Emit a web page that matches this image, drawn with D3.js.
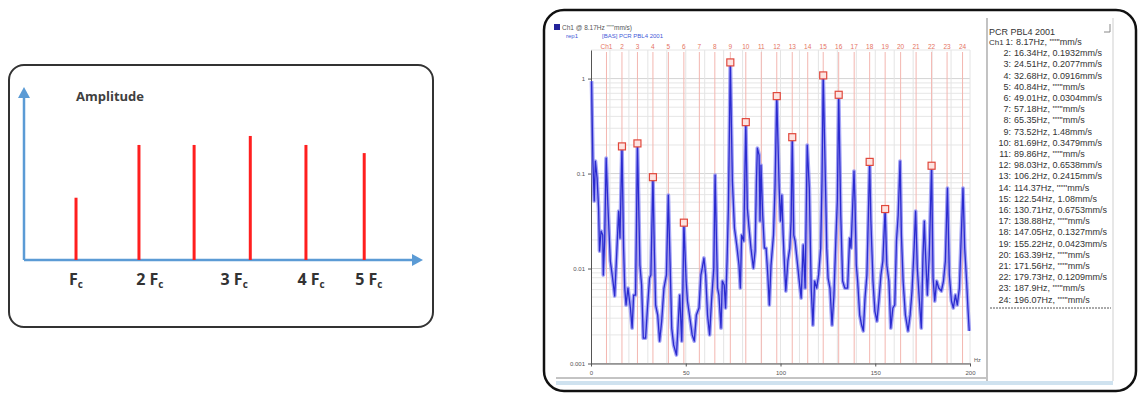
<!DOCTYPE html>
<html>
<head>
<meta charset="utf-8">
<script src="https://cdn.jsdelivr.net/npm/d3@7"></script>
<style>
  body { margin: 0; background: #fff; }
  svg { display: block; }
</style>
</head>
<body>
<div id="chart"></div>
<script>
// ---- left schematic: comb of harmonics (arbitrary units)
var combPos = [1.0, 2.21, 3.27, 4.35, 5.42, 6.54];
var combAmp = [0.36, 0.665, 0.665, 0.717, 0.665, 0.618];
var combLabels = ["", "2 ", "3 ", "4 ", "5 "];
var combLabelPos = [1.0, 2.42, 4.04, 5.52, 6.63];

// ---- right: measured velocity spectrum [Hz, mm/s]
var spectrum = [
  [0.3, 0.94], [1.0, 0.1355], [1.7, 0.0514], [2.3, 0.1355], [3.2, 0.0897], [4.0, 0.0433],
  [4.5, 0.0153], [5.3, 0.0248], [6.2, 0.0225], [6.5, 0.00855], [7.2, 0.0195], [8.0, 0.1456],
  [8.9, 0.0466], [10.2, 0.012], [11.4, 0.00794], [12.5, 0.00514], [13.7, 0.0164], [14.6, 0.0403],
  [15.3, 0.0209], [16.34, 0.1932], [17.2, 0.0164], [17.8, 0.00623], [18.5, 0.00413], [19.5, 0.00623],
  [20.8, 0.00384], [21.7, 0.00236], [22.5, 0.00526], [23.5, 0.00526], [24.0, 0.0287], [24.51, 0.2077],
  [25.8, 0.0109], [26.7, 0.0067], [27.6, 0.00185], [28.8, 0.00185], [29.8, 0.00384], [30.9, 0.00794],
  [31.6, 0.00855], [32.68, 0.0916], [33.4, 0.0164], [34.1, 0.00413], [35.2, 0.00324], [36.2, 0.00172],
  [37.3, 0.0028], [38.5, 0.00623], [39.8, 0.00855], [40.8, 0.0594], [41.7, 0.012], [42.6, 0.00236],
  [43.6, 0.00157], [45.1, 0.00123], [45.8, 0.0022], [46.8, 0.00526], [47.9, 0.00172], [48.5, 0.00623],
  [49.01, 0.0304], [50.2, 0.00738], [50.9, 0.00455], [52.4, 0.0028], [53.4, 0.002], [54.5, 0.00172],
  [55.6, 0.00324], [57.0, 0.00384], [58.0, 0.00855], [58.7, 0.0101], [59.6, 0.0129], [60.5, 0.00855],
  [61.5, 0.00324], [62.6, 0.002], [63.6, 0.00455], [64.8, 0.0101], [65.5, 0.0964], [66.3, 0.0164],
  [66.8, 0.00623], [67.5, 0.00526], [68.6, 0.00236], [69.3, 0.00738], [70.3, 0.0067], [71.0, 0.00384],
  [71.8, 0.012], [72.5, 0.0433], [73.52, 1.48], [74.6, 0.0834], [75.7, 0.0267], [76.9, 0.0177],
  [78.1, 0.0109], [78.8, 0.00623], [79.5, 0.0225], [80.6, 0.0195], [81.69, 0.3479], [82.5, 0.0433],
  [83.4, 0.0267], [84.4, 0.0164], [85.7, 0.0101], [86.6, 0.0153], [87.3, 0.0834], [87.8, 0.1855],
  [88.7, 0.1566], [89.2, 0.0316], [89.7, 0.1228], [90.6, 0.0366], [91.5, 0.0164], [92.4, 0.0164],
  [93.3, 0.00855], [94.1, 0.00413], [95.0, 0.0109], [96.3, 0.0225], [97.1, 0.0703], [98.03, 0.6538],
  [99.3, 0.0703], [100.0, 0.0316], [100.7, 0.0594], [101.4, 0.0225], [102.1, 0.0109], [102.8, 0.0058],
  [103.9, 0.012], [104.9, 0.0164], [105.6, 0.0316], [106.2, 0.2415], [107.0, 0.0225], [107.7, 0.0195],
  [108.8, 0.012], [109.9, 0.00738], [110.9, 0.00489], [112.0, 0.0177], [113.0, 0.00623], [114.1, 0.1995],
  [115.2, 0.0703], [116.2, 0.00623], [117.1, 0.00254], [118.0, 0.00738], [119.1, 0.00623], [120.1, 0.00855],
  [121.2, 0.0164], [121.9, 0.0834], [122.54, 1.08], [123.7, 0.0834], [124.4, 0.0164], [125.1, 0.00794],
  [126.1, 0.00623], [127.2, 0.00254], [128.2, 0.00526], [129.3, 0.0225], [130.0, 0.0514], [130.71, 0.6753],
  [131.8, 0.0366], [132.8, 0.00738], [133.9, 0.00623], [135.4, 0.00623], [136.5, 0.0209], [137.2, 0.0164],
  [137.9, 0.0366], [138.8, 0.1062], [139.3, 0.0514], [140.0, 0.0109], [140.7, 0.00738], [141.8, 0.00324],
  [142.8, 0.00254], [143.7, 0.0022], [144.6, 0.00489], [145.6, 0.00855], [147.05, 0.1327], [147.7, 0.0316],
  [148.8, 0.00738], [149.8, 0.00357], [150.9, 0.0028], [151.9, 0.00455], [153.0, 0.00855], [154.0, 0.012],
  [155.22, 0.0423], [156.1, 0.0109], [157.2, 0.00738], [158.2, 0.00236], [159.3, 0.00384], [160.3, 0.00413],
  [161.2, 0.0195], [162.1, 0.0366], [163.1, 0.1355], [163.8, 0.0225], [164.7, 0.00738], [165.9, 0.00324],
  [167.3, 0.0022], [168.4, 0.00324], [169.4, 0.0058], [170.5, 0.0164], [171.3, 0.0403], [172.2, 0.0101],
  [173.3, 0.00455], [174.3, 0.00236], [175.2, 0.0139], [175.9, 0.0316], [176.4, 0.0164], [177.5, 0.00526],
  [178.5, 0.0139], [179.73, 0.1209], [180.5, 0.00794], [181.4, 0.00455], [182.4, 0.00738], [183.5, 0.00623],
  [184.9, 0.0058], [186.0, 0.00738], [187.0, 0.012], [188.1, 0.0703], [189.1, 0.00855], [190.2, 0.00455],
  [191.2, 0.00384], [192.3, 0.00526], [193.3, 0.00413], [194.4, 0.00623], [195.4, 0.0225], [196.3, 0.0703],
  [197.2, 0.0164], [198.2, 0.00738], [198.9, 0.00384], [199.6, 0.0022]
];

var harmonicFreq = [8.17, 16.34, 24.51, 32.68, 40.84, 49.01, 57.18, 65.35, 73.52, 81.69, 89.86, 98.03,
  106.2, 114.37, 122.54, 130.71, 138.88, 147.05, 155.22, 163.39, 171.56, 179.73, 187.9, 196.07];
var harmonicAmp = [null, 0.1932, 0.2077, 0.0916, null, 0.0304, null, null, 1.48, 0.3479, null, 0.6538,
  0.2415, null, 1.08, 0.6753, null, 0.1327, 0.0423, null, null, 0.1209, null, null];
var harmonicFreqText = ["8.17", "16.34", "24.51", "32.68", "40.84", "49.01", "57.18", "65.35", "73.52",
  "81.69", "89.86", "98.03", "106.2", "114.37", "122.54", "130.71", "138.88", "147.05", "155.22",
  "163.39", "171.56", "179.73", "187.9", "196.07"];
var xTicks = [0, 50, 100, 150, 200];
var yTicks = [0.001, 0.01, 0.1, 1];

var svg = d3.select("#chart")
  .append("svg")
  .attr("width", 1140)
  .attr("height", 394);

svg.append("rect").attr("width", 1140).attr("height", 394).attr("fill", "#fff");

// ================= left panel =================
svg.append("rect")
  .attr("x", 9).attr("y", 65)
  .attr("width", 424).attr("height", 262)
  .attr("rx", 15)
  .attr("fill", "#fff")
  .attr("stroke", "#333")
  .attr("stroke-width", 2);

var combX = d3.scaleLinear().domain([0, 7.67]).range([24, 423]);
var combY = d3.scaleLinear().domain([0, 1]).range([260, 87]);
var axisBlue = "#5b9bd5";

var left = svg.append("g");

left.append("line")
  .attr("x1", combX(0)).attr("y1", combY(0))
  .attr("x2", combX(0)).attr("y2", combY(1) + 8)
  .attr("stroke", axisBlue).attr("stroke-width", 2.5);
left.append("line")
  .attr("x1", combX(0)).attr("y1", combY(0))
  .attr("x2", combX(7.67) - 8).attr("y2", combY(0))
  .attr("stroke", axisBlue).attr("stroke-width", 2.5);

// arrow heads
var x0 = combX(0), yTop = combY(1), y0 = combY(0), xEnd = combX(7.67);
left.append("path")
  .attr("d", `M${x0},${yTop} L${x0 - 6},${yTop + 11} L${x0 + 6},${yTop + 11} Z`)
  .attr("fill", axisBlue);
left.append("path")
  .attr("d", `M${xEnd},${y0} L${xEnd - 11},${y0 - 6} L${xEnd - 11},${y0 + 6} Z`)
  .attr("fill", axisBlue);

left.selectAll(".comb")
  .data(combPos)
  .enter()
  .append("line")
  .attr("class", "comb")
  .attr("x1", d => combX(d))
  .attr("x2", d => combX(d))
  .attr("y1", combY(0))
  .attr("y2", (d, i) => combY(combAmp[i]))
  .attr("stroke", "#ff1f1f")
  .attr("stroke-width", 3);

left.append("text")
  .attr("x", 76).attr("y", 101)
  .attr("font-family", "Open Sans, sans-serif")
  .attr("font-weight", "bold")
  .attr("font-size", "13px")
  .attr("fill", "#404040")
  .text("Amplitude");

var combText = left.selectAll(".combLabel")
  .data(combLabels)
  .enter()
  .append("text")
  .attr("class", "combLabel")
  .attr("x", (d, i) => combX(combLabelPos[i]))
  .attr("y", 285)
  .attr("text-anchor", "middle")
  .attr("font-family", "Open Sans, sans-serif")
  .attr("font-weight", "bold")
  .attr("font-size", "16px")
  .attr("fill", "#333");
combText.append("tspan").text(d => d + "F");
combText.append("tspan").attr("font-size", "10px").attr("dy", 3).text("c");

// ================= right panel =================
svg.append("rect")
  .attr("x", 544).attr("y", 10)
  .attr("width", 592).attr("height", 381)
  .attr("rx", 20)
  .attr("fill", "#fff")
  .attr("stroke", "#111")
  .attr("stroke-width", 2.5);

var specX = d3.scaleLinear().domain([0, 200]).range([591, 970]);
var specY = d3.scaleLog().domain([0.001, 2]).range([363.5, 50]);

var plot = svg.append("g");

// log grid
var gridY = [];
yTicks.forEach(function(dec) {
  for (var m = 1; m <= 9; m++) {
    if (dec * m <= 2) gridY.push(dec * m);
  }
});
plot.selectAll(".gy")
  .data(gridY)
  .enter()
  .append("line")
  .attr("x1", specX(0)).attr("x2", specX(200))
  .attr("y1", d => specY(d)).attr("y2", d => specY(d))
  .attr("stroke", (d, i) => (i % 9 === 0 ? "#d4d4d4" : "#e6e6e6"))
  .attr("stroke-width", 1);

plot.selectAll(".gx")
  .data(d3.range(10, 201, 10))
  .enter()
  .append("line")
  .attr("x1", d => specX(d)).attr("x2", d => specX(d))
  .attr("y1", specY(2)).attr("y2", specY(0.001))
  .attr("stroke", "#e4e4e4")
  .attr("stroke-width", 1);

// harmonic cursors
plot.selectAll(".hl")
  .data(harmonicFreq)
  .enter()
  .append("line")
  .attr("x1", d => specX(d)).attr("x2", d => specX(d))
  .attr("y1", 52).attr("y2", specY(0.001))
  .attr("stroke", "#f3b6b0")
  .attr("stroke-width", 1);

plot.selectAll(".hlab")
  .data(harmonicFreq)
  .enter()
  .append("text")
  .attr("x", d => specX(d))
  .attr("y", 49)
  .attr("text-anchor", "middle")
  .attr("font-family", "Liberation Sans, Arial, sans-serif")
  .attr("font-size", "6.5px")
  .attr("fill", "#e5735f")
  .text((d, i) => (i === 0 ? "Ch1" : String(i + 1)));

// axes
var bottomAxis = d3.axisBottom(specX).tickValues(xTicks).tickSize(3).tickSizeOuter(0);
var leftAxis = d3.axisLeft(specY).tickValues(yTicks).tickSize(3).tickSizeOuter(0)
  .tickFormat(d3.format("~g"));

var gx = plot.append("g")
  .attr("transform", `translate(0, ${specY(0.001)})`)
  .call(bottomAxis);
var gy = plot.append("g")
  .attr("transform", `translate(${specX(0)}, 0)`)
  .call(leftAxis);
[gx, gy].forEach(function(g) {
  g.select(".domain").attr("stroke", "#555");
  g.selectAll(".tick line").attr("stroke", "#555");
  g.selectAll("text")
    .attr("font-family", "Liberation Sans, Arial, sans-serif")
    .attr("font-size", "6px")
    .attr("fill", "#555");
});
gx.selectAll("text").attr("dy", "0.9em");

plot.append("text")
  .attr("x", specX(200) + 4).attr("y", specY(0.001) - 2)
  .attr("font-family", "Liberation Sans, Arial, sans-serif")
  .attr("font-size", "5.5px")
  .attr("fill", "#555")
  .text("Hz");

// trace
var line = d3.line()
  .x(d => specX(d[0]))
  .y(d => specY(d[1]));

plot.append("path")
  .datum(spectrum)
  .attr("d", line)
  .attr("fill", "none")
  .attr("stroke", "#8d8df2")
  .attr("stroke-width", 3.8)
  .attr("stroke-linejoin", "round")
  .attr("opacity", 0.8);
plot.append("path")
  .datum(spectrum)
  .attr("d", line)
  .attr("fill", "none")
  .attr("stroke", "#2b2bcf")
  .attr("stroke-width", 1.3)
  .attr("stroke-linejoin", "round");

// peak markers
var marked = harmonicFreq
  .map((f, i) => ({ f: f, a: harmonicAmp[i] }))
  .filter(d => d.a !== null);
plot.selectAll(".mk")
  .data(marked)
  .enter()
  .append("rect")
  .attr("x", d => specX(d.f) - 3.5)
  .attr("y", d => specY(d.a) - 3.5)
  .attr("width", 7).attr("height", 7)
  .attr("fill", "#fde3e0")
  .attr("stroke", "#e0483c")
  .attr("stroke-width", 1.2);

// plot legend
plot.append("rect")
  .attr("x", 554).attr("y", 24)
  .attr("width", 6).attr("height", 6)
  .attr("fill", "#23239a");
plot.append("text")
  .attr("x", 562).attr("y", 30)
  .attr("font-family", "Liberation Sans, Arial, sans-serif")
  .attr("font-size", "6.5px")
  .attr("fill", "#555")
  .text("Ch1 @ 8.17Hz  ''''''mm/s)");
plot.append("text")
  .attr("x", 566).attr("y", 38)
  .attr("font-family", "Liberation Sans, Arial, sans-serif")
  .attr("font-size", "6px")
  .attr("fill", "#3f5ad8")
  .text("rep1");
plot.append("text")
  .attr("x", 602).attr("y", 38)
  .attr("font-family", "Liberation Sans, Arial, sans-serif")
  .attr("font-size", "6px")
  .attr("fill", "#3f5ad8")
  .text("[BAS]  PCR PBL4 2001");

// bottom strip
plot.append("line")
  .attr("x1", 556).attr("x2", 986)
  .attr("y1", 378).attr("y2", 378)
  .attr("stroke", "#888").attr("stroke-width", 1);
plot.append("rect")
  .attr("x", 556).attr("y", 381)
  .attr("width", 557).attr("height", 4)
  .attr("fill", "#cfe2ef");

// ---- harmonic list panel
var list = svg.append("g");
list.append("line")
  .attr("x1", 987).attr("x2", 987).attr("y1", 18).attr("y2", 381)
  .attr("stroke", "#9a9a9a").attr("stroke-width", 1.2);
list.append("line")
  .attr("x1", 1113).attr("x2", 1113).attr("y1", 18).attr("y2", 381)
  .attr("stroke", "#cfcfcf").attr("stroke-width", 1);
list.append("path")
  .attr("d", "M1110,24 L1110,32 L1104,32")
  .attr("fill", "none").attr("stroke", "#888").attr("stroke-width", 1);
list.append("line")
  .attr("x1", 990).attr("x2", 1111).attr("y1", 308).attr("y2", 308)
  .attr("stroke", "#555").attr("stroke-width", 1)
  .attr("stroke-dasharray", "2,1");

var listFont = "Liberation Sans, Arial, sans-serif";
list.append("text")
  .attr("x", 989).attr("y", 35)
  .attr("font-family", listFont).attr("font-size", "9px").attr("fill", "#333")
  .text("PCR PBL4 2001");
list.append("text")
  .attr("x", 989).attr("y", 45)
  .attr("font-family", listFont).attr("font-size", "8px").attr("fill", "#333")
  .text("Ch1");

var rows = list.selectAll(".row")
  .data(harmonicFreqText)
  .enter()
  .append("g")
  .attr("transform", (d, i) => `translate(0, ${45 + i * 11.2})`);
rows.append("text")
  .attr("x", (d, i) => (i === 0 ? 1013 : 1011))
  .attr("text-anchor", "end")
  .attr("font-family", listFont).attr("font-size", "9px").attr("fill", "#333")
  .text((d, i) => (i + 1) + ":");
rows.append("text")
  .attr("x", (d, i) => (i === 0 ? 1016 : 1014))
  .attr("font-family", listFont).attr("font-size", "9px").attr("fill", "#333")
  .text((d, i) => d + "Hz, " + (harmonicAmp[i] === null ? "''''''" : harmonicAmp[i]) + "mm/s");
</script>
</body>
</html>
